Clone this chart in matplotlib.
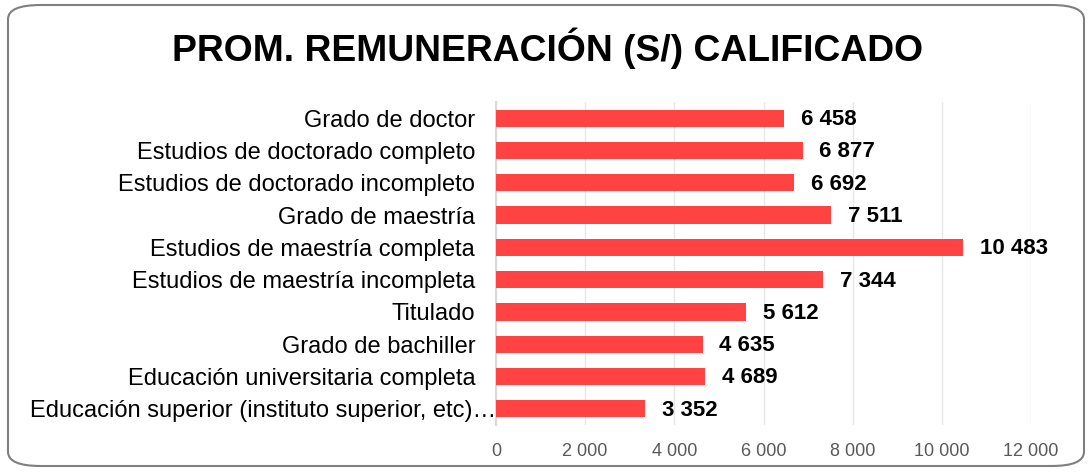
import matplotlib
matplotlib.use("Agg")
import matplotlib.pyplot as plt
from matplotlib.patches import FancyBboxPatch
from matplotlib.ticker import FuncFormatter
from matplotlib.transforms import ScaledTranslation

categories = [
    "Grado de doctor",
    "Estudios de doctorado completo",
    "Estudios de doctorado incompleto",
    "Grado de maestría",
    "Estudios de maestría completa",
    "Estudios de maestría incompleta",
    "Titulado",
    "Grado de bachiller",
    "Educación universitaria completa",
    "Educación superior (instituto superior, etc)…",
]
values = [6458, 6877, 6692, 7511, 10483, 7344, 5612, 4635, 4689, 3352]
xticks = [0, 2000, 4000, 6000, 8000, 10000, 12000]

plt.rcParams['font.family'] = ['Liberation Sans', 'DejaVu Sans']

W, H = 1091, 472
fig = plt.figure(figsize=(W / 100, H / 100), dpi=100)

# rounded border
box = FancyBboxPatch((8 / W, 6 / H), (1084 - 8) / W, (467 - 6) / H,
                     boxstyle="round,pad=0,rounding_size=0.03",
                     transform=fig.transFigure, facecolor="none",
                     edgecolor="#7f7f7f", linewidth=1.5, zorder=-1)
fig.patches.append(box)

fig.text(548 / W, 1 - 48 / H, "PROM. REMUNERACIÓN (S/) CALIFICADO",
         ha="center", va="center", fontsize=26.8, fontweight="bold", color="black")

ax = fig.add_axes([496 / W, 1 - 425 / H, (1031 - 496) / W, (425 - 102) / H])
ax.set_facecolor("none")
y = list(range(len(categories)))
ax.barh(y, values, height=0.53, color="#FF4343", zorder=3)
ax.set_ylim(len(categories) - 0.5, -0.5)
ax.set_xlim(0, 12000)
ax.set_xticks(xticks)
ax.xaxis.set_major_formatter(FuncFormatter(lambda v, p: f"{int(v):,}".replace(",", " ")))
ax.set_yticks(y)
ax.set_yticklabels(categories, fontsize=17, color="black")
ax.tick_params(axis="x", labelsize=13, labelcolor="#595959", length=0, pad=13)
ax.tick_params(axis="y", length=0, pad=15)
ax.grid(axis="x", color="#e6e6e6", linewidth=1, zorder=0)
for s in ["top", "right", "bottom"]:
    ax.spines[s].set_visible(False)
ax.spines["left"].set_color("#d9d9d9")
ax.spines["left"].set_linewidth(1.5)

# the long last label runs into the axis in the reference
last = ax.get_yticklabels()[-1]
last.set_transform(last.get_transform() + ScaledTranslation(21 / 100, 0, fig.dpi_scale_trans))

for yi, v in zip(y, values):
    ax.annotate(f"{v:,}".replace(",", " "), xy=(v, yi), xytext=(12, -1),
                textcoords="offset points", va="center", ha="left",
                fontsize=16, fontweight="bold", color="black", zorder=4)

fig.savefig("out.png", dpi=100)
